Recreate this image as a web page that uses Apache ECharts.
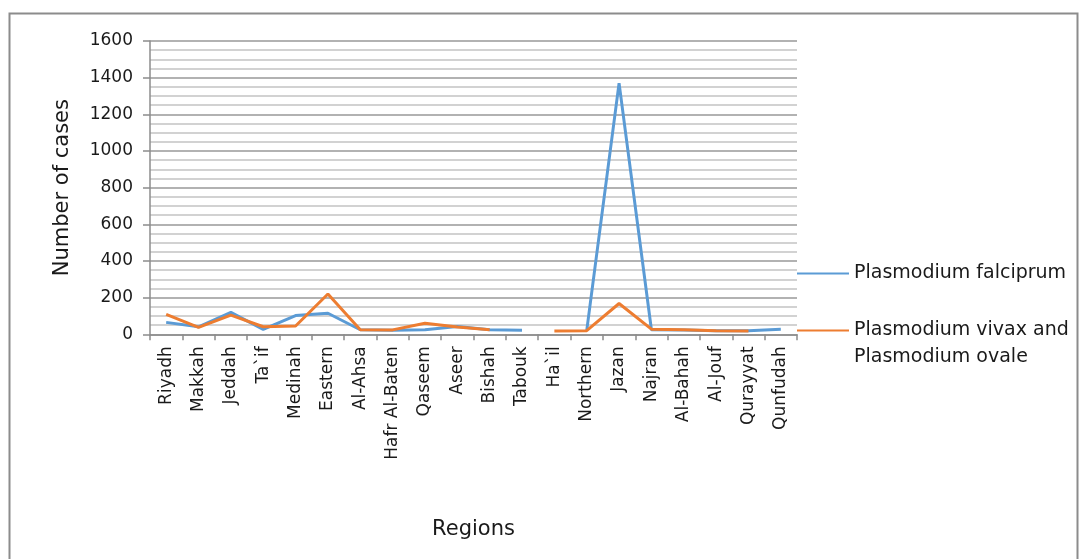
<!DOCTYPE html>
<html>
<head>
<meta charset="utf-8">
<script src="https://cdn.jsdelivr.net/npm/echarts@6/dist/echarts.min.js"></script>
<style>
  html, body { margin: 0; padding: 0; background: #fff; }
  #chart { width: 1086px; height: 559px; }
</style>
</head>
<body>
<div id="chart"></div>
<script>
var regions = ["Riyadh", "Makkah", "Jeddah", "Ta`if", "Medinah", "Eastern", "Al-Ahsa", "Hafr Al-Baten", "Qaseem", "Aseer", "Bishah", "Tabouk", "Ha`il", "Northern", "Jazan", "Najran", "Al-Bahah", "Al-Jouf", "Qurayyat", "Qunfudah"];
var falciprum = [65, 41, 120, 27, 102, 115, 25, 22, 25, 42, 25, 22, null, 20, 1370, 25, 24, 20, 20, 27];
var vivaxOvale = [109, 38, 105, 41, 45, 220, 25, 24, 60, 40, 25, null, 18, 20, 168, 28, 25, 20, 18, null];
var yTicks = [0, 200, 400, 600, 800, 1000, 1200, 1400, 1600];

var FONT = "DejaVu Sans";
var chart = echarts.init(document.getElementById('chart'));
chart.setOption({
  animation: false,
  backgroundColor: '#ffffff',
  graphic: [{
    type: 'rect',
    shape: { x: 9.5, y: 13.5, width: 1068, height: 560 },
    style: { fill: 'none', stroke: '#8c8c8c', lineWidth: 2 },
    silent: true
  }],
  grid: { left: 150, right: 289, top: 41, bottom: 224.7, containLabel: false },
  legend: [{
    orient: 'vertical',
    left: 797,
    top: 264,
    padding: 0,
    itemWidth: 52,
    itemHeight: 20,
    icon: 'path://M0,9L52,9L52,11L0,11Z',
    data: ['Plasmodium falciprum'],
    textStyle: { fontFamily: FONT, fontSize: 19, color: '#1a1a1a' }
  }, {
    orient: 'vertical',
    left: 797,
    top: 290,
    padding: 0,
    itemWidth: 52,
    itemHeight: 20,
    icon: 'path://M0,9L52,9L52,11L0,11Z',
    data: ['Plasmodium vivax and Plasmodium ovale'],
    formatter: function () { return ' \nPlasmodium vivax and\nPlasmodium ovale'; },
    textStyle: { fontFamily: FONT, fontSize: 19, color: '#1a1a1a', lineHeight: 27 }
  }],
  xAxis: {
    type: 'category',
    data: regions,
    boundaryGap: true,
    name: 'Regions',
    nameLocation: 'middle',
    nameGap: 185,
    nameTextStyle: { fontFamily: FONT, fontSize: 21, color: '#1a1a1a' },
    axisLine: { show: true, lineStyle: { color: '#8c8c8c', width: 1.5 } },
    axisTick: { show: true, alignWithLabel: false, length: 6, lineStyle: { color: '#8c8c8c', width: 1.5 } },
    axisLabel: { interval: 0, rotate: 90, margin: 12, fontFamily: FONT, fontSize: 17, color: '#1a1a1a' },
    splitLine: { show: false }
  },
  yAxis: {
    type: 'value',
    min: 0,
    max: 1600,
    interval: 200,
    name: 'Number of cases',
    nameLocation: 'middle',
    nameGap: 77,
    nameRotate: 90,
    nameTextStyle: { fontFamily: FONT, fontSize: 21, color: '#1a1a1a' },
    axisLine: { show: true, lineStyle: { color: '#8c8c8c', width: 1.5 } },
    axisTick: { show: true, inside: false, length: 7, lineStyle: { color: '#8c8c8c', width: 1.5 } },
    axisLabel: {
      margin: 17, fontFamily: FONT, fontSize: 17, color: '#1a1a1a',
      formatter: function (v) { return yTicks.indexOf(v) >= 0 ? String(v) : ''; }
    },
    splitLine: { show: true, lineStyle: { color: '#999999', width: 1.5 } },
    minorTick: { show: false, splitNumber: 4 },
    minorSplitLine: { show: true, lineStyle: { color: '#c4c4c4', width: 1.5 } }
  },
  series: [{
    name: 'Plasmodium falciprum',
    type: 'line',
    data: falciprum,
    connectNulls: false,
    showSymbol: false,
    symbol: 'none',
    lineStyle: { color: '#5B9BD5', width: 3 },
    itemStyle: { color: '#5B9BD5' },
    z: 2
  }, {
    name: 'Plasmodium vivax and Plasmodium ovale',
    type: 'line',
    data: vivaxOvale,
    connectNulls: false,
    showSymbol: false,
    symbol: 'none',
    lineStyle: { color: '#ED7D31', width: 3 },
    itemStyle: { color: '#ED7D31' },
    z: 3
  }]
});
</script>
</body>
</html>
